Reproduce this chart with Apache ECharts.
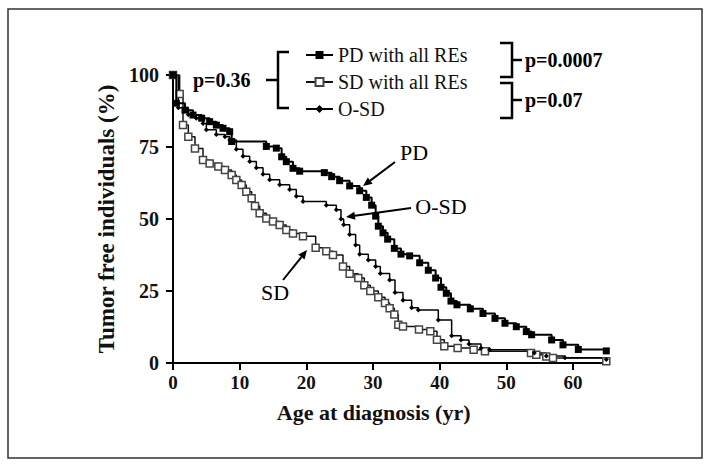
<!DOCTYPE html>
<html><head><meta charset="utf-8">
<script src="https://cdn.jsdelivr.net/npm/echarts@6/dist/echarts.min.js"></script>
<style>html,body{margin:0;padding:0;background:#fff}#c{width:712px;height:467px}</style>
</head><body><div id="c"></div>
<script>
// Tick labels
const xTicks = [0, 10, 20, 30, 40, 50, 60];
const yTicks = [0, 25, 50, 75, 100];
// Series names
const seriesNames = ['PD with all REs', 'SD with all REs', 'O-SD'];
// PD with all REs (filled squares)
const pdAge  = [0, 0.5, 1.8, 3.0, 4.3, 5.5, 6.5, 7.5, 8.5, 8.8, 14.0, 15.5, 16.3, 17.0, 18.0, 19.0, 22.7, 23.8, 25.0, 26.5, 28.0, 29.0, 29.8, 30.4, 30.8, 31.5, 32.2, 33.2, 34.2, 35.5, 37.0, 38.3, 39.4, 40.2, 41.0, 41.7, 42.6, 44.6, 46.5, 48.3, 49.8, 51.5, 53.0, 53.8, 56.8, 58.5, 60.8, 65.0];
const pdSurv = [100, 90.2, 87.8, 86.1, 85.0, 83.8, 82.6, 81.5, 80.3, 76.9, 75.2, 74.6, 71.6, 69.9, 67.6, 66.6, 66.1, 64.7, 63.3, 61.5, 59.8, 57.5, 54.8, 51.0, 47.5, 45.2, 43.0, 39.8, 37.8, 37.2, 34.8, 32.2, 29.5, 26.3, 24.2, 21.5, 20.2, 18.8, 17.2, 15.5, 13.8, 12.6, 10.9, 9.8, 8.0, 6.3, 4.7, 4.2];
// SD with all REs (open squares)
const sdAge  = [0, 1.0, 1.5, 2.3, 3.3, 4.5, 5.5, 6.8, 7.8, 8.8, 9.5, 10.3, 11.0, 11.8, 12.3, 13.0, 14.0, 15.0, 16.0, 17.0, 18.0, 19.5, 21.4, 23.0, 24.0, 25.5, 26.5, 27.8, 28.7, 29.6, 30.8, 31.8, 32.5, 33.2, 33.8, 34.5, 36.9, 38.6, 39.6, 40.7, 42.7, 45.1, 46.8, 53.7, 54.5, 56.0, 57.0, 65.0];
const sdSurv = [100, 93.4, 82.6, 78.6, 74.5, 70.5, 69.3, 68.2, 67.0, 65.3, 63.5, 61.8, 59.5, 57.2, 54.5, 52.0, 50.2, 49.1, 47.9, 46.2, 45.0, 44.0, 40.0, 38.8, 37.5, 33.5, 31.0, 29.5, 27.0, 25.0, 22.8, 20.8, 19.0, 16.8, 13.3, 12.7, 11.6, 11.0, 8.1, 5.8, 5.2, 4.6, 4.1, 3.5, 2.9, 2.3, 1.7, 0.6];
// O-SD (small dots)
const osdAge  = [0, 0.8, 2.3, 3.5, 4.5, 5.0, 6.5, 7.8, 8.5, 9.5, 10.5, 11.5, 12.5, 13.5, 14.5, 16.0, 17.5, 18.5, 19.5, 23.0, 24.5, 25.2, 25.6, 26.5, 27.4, 28.0, 29.3, 30.4, 31.1, 32.5, 33.3, 34.5, 35.8, 36.8, 39.8, 41.8, 43.2, 44.4, 46.2, 47.5, 54.2, 56.0, 58.8, 65.0];
const osdSurv = [100, 88.6, 86.2, 85.0, 83.2, 81.0, 79.3, 78.6, 77.4, 74.2, 71.8, 70.0, 67.8, 65.5, 63.6, 61.9, 60.2, 57.9, 56.1, 54.8, 53.2, 50.0, 48.0, 44.6, 41.0, 37.8, 35.8, 33.5, 31.1, 28.8, 24.5, 21.8, 19.2, 18.4, 14.9, 9.5, 8.0, 6.6, 5.2, 4.6, 3.5, 2.4, 1.8, 1.2];

const zip = (a, b) => a.map((v, i) => [v, b[i]]);
const SERIF = '"Liberation Serif","Times New Roman",serif';
const chart = echarts.init(document.getElementById('c'), null, {renderer: 'svg'});

function arrow(x1, y1, x2, y2) {
  const ang = Math.atan2(y2 - y1, x2 - x1), L = 9, W = 4;
  const bx = x2 - L * Math.cos(ang), by = y2 - L * Math.sin(ang);
  const px = -Math.sin(ang) * W, py = Math.cos(ang) * W;
  return [
    {type: 'line', shape: {x1: x1, y1: y1, x2: bx, y2: by}, style: {stroke: '#000', lineWidth: 2}},
    {type: 'polygon', shape: {points: [[x2, y2], [bx + px, by + py], [bx - px, by - py]]}, style: {fill: '#000'}}
  ];
}
function txt(t, x, y, opt) {
  return {type: 'text', x: x, y: y, style: Object.assign({text: t, font: '20px ' + SERIF, fill: '#000', textAlign: 'left', textVerticalAlign: 'middle'}, opt || {})};
}

const graphics = [
  {type: 'rect', shape: {x: 8, y: 9, width: 694, height: 449}, style: {fill: 'none', stroke: '#333', lineWidth: 1.5}},
  {type: 'polyline', shape: {points: [[289, 52], [278, 52], [278, 108], [289, 108]]}, style: {stroke: '#000', lineWidth: 2.5, fill: 'none'}},
  {type: 'line', shape: {x1: 266, y1: 80, x2: 278, y2: 80}, style: {stroke: '#000', lineWidth: 2.5}},
  {type: 'polyline', shape: {points: [[500, 43], [512, 43], [512, 77], [500, 77]]}, style: {stroke: '#000', lineWidth: 2.5, fill: 'none'}},
  {type: 'line', shape: {x1: 512, y1: 60, x2: 522, y2: 60}, style: {stroke: '#000', lineWidth: 2.5}},
  {type: 'polyline', shape: {points: [[500, 83], [512, 83], [512, 118], [500, 118]]}, style: {stroke: '#000', lineWidth: 2.5, fill: 'none'}},
  {type: 'line', shape: {x1: 512, y1: 100, x2: 522, y2: 100}, style: {stroke: '#000', lineWidth: 2.5}},
  txt('p=0.36', 193, 80, {font: 'bold 20px ' + SERIF}),
  txt('p=0.0007', 525, 60, {font: 'bold 20px ' + SERIF}),
  txt('p=0.07', 525, 100, {font: 'bold 20px ' + SERIF}),
  txt('PD', 414, 152, {font: '22px ' + SERIF, textAlign: 'center'}),
  txt('O-SD', 441, 206, {font: '22px ' + SERIF, textAlign: 'center'}),
  txt('SD', 275, 292, {font: '22px ' + SERIF, textAlign: 'center'})
].concat(arrow(395, 162, 363, 186), arrow(411, 208, 346, 217), arrow(283, 280, 307, 250));

chart.setOption({
  animation: false,
  backgroundColor: '#fff',
  grid: {left: 173, top: 75, width: 433.3, height: 288},
  legend: {
    orient: 'vertical', left: 300, top: 40, itemWidth: 27, itemHeight: 10, itemGap: 7,
    textStyle: {fontFamily: SERIF, fontSize: 20, color: '#111', lineHeight: 20},
    data: seriesNames
  },
  xAxis: {
    type: 'value', min: 0, max: 65, interval: 10,
    name: 'Age at diagnosis (yr)', nameLocation: 'middle', nameGap: 38,
    nameTextStyle: {fontFamily: SERIF, fontWeight: 'bold', fontSize: 22, color: '#111', padding: [0, 32, 0, 0]},
    axisLine: {show: true, lineStyle: {color: '#000', width: 2}},
    axisTick: {show: true, length: 7, lineStyle: {color: '#000', width: 2}, customValues: xTicks},
    axisLabel: {fontFamily: SERIF, fontWeight: 'bold', fontSize: 19, color: '#111', margin: 10, customValues: xTicks},
    splitLine: {show: false}
  },
  yAxis: {
    type: 'value', min: 0, max: 100, interval: 25,
    name: 'Tumor free individuals (%)', nameLocation: 'middle', nameGap: 48, nameRotate: 90,
    nameTextStyle: {fontFamily: SERIF, fontWeight: 'bold', fontSize: 23, color: '#111'},
    axisLine: {show: true, lineStyle: {color: '#000', width: 2}},
    axisTick: {show: true, length: 7, lineStyle: {color: '#000', width: 2}, customValues: yTicks},
    axisLabel: {fontFamily: SERIF, fontWeight: 'bold', fontSize: 20, color: '#111', margin: 14, customValues: yTicks},
    splitLine: {show: false}
  },
  series: [
    {name: seriesNames[0], type: 'line', step: 'end', data: zip(pdAge, pdSurv), showAllSymbol: true,
     symbol: 'rect', symbolSize: 7, itemStyle: {color: '#000'}, lineStyle: {color: '#000', width: 2}, z: 3},
    {name: seriesNames[1], type: 'line', step: 'end', data: zip(sdAge, sdSurv), showAllSymbol: true,
     symbol: 'rect', symbolSize: 7, itemStyle: {color: '#fff', borderColor: '#444', borderWidth: 1.5}, lineStyle: {color: '#111', width: 1.5}, z: 2},
    {name: seriesNames[2], type: 'line', step: 'end', data: zip(osdAge, osdSurv), showAllSymbol: true,
     symbol: 'diamond', symbolSize: 5, itemStyle: {color: '#000'}, lineStyle: {color: '#000', width: 1.5}, z: 2}
  ],
  graphic: {elements: graphics}
});
</script></body></html>
